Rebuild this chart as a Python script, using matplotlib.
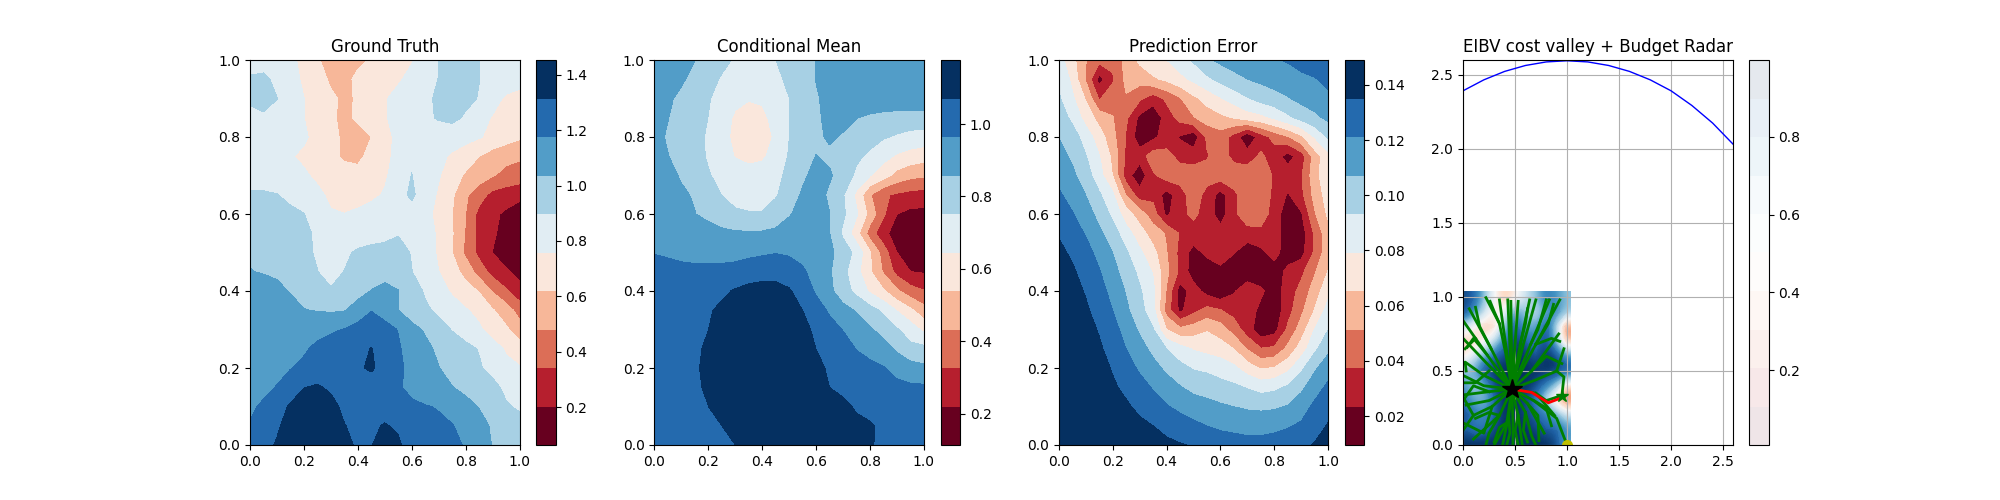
import matplotlib
matplotlib.use('Agg')
import matplotlib.pyplot as plt
import numpy as np

# coordenadas das grades
x_fine = [0, .05, .1, .15, .2, .25, .3, .35, .4, .45, .5, .55, .6, .65, .7, .75, .8, .85, .9, .95, 1]
y_fine = [1, .95, .9, .85, .8, .75, .7, .65, .6, .55, .5, .45, .4, .35, .3, .25, .2, .15, .1, .05, 0]
x_coarse = [0, .1, .2, .3, .4, .5, .6, .7, .8, .9, 1]
y_coarse = [1, .9, .8, .7, .6, .5, .4, .3, .2, .1, 0]

truth = [
    [.85, .83, .81, .79, .72, .63, .58, .57, .59, .63, .68, .71, .75, .82, .90, .94, .94, .90, .86, .83, .82],
    [.91, .93, .86, .80, .74, .67, .60, .58, .65, .70, .72, .745, .79, .85, .90, .95, .95, .90, .85, .82, .80],
    [.93, .96, .90, .82, .76, .70, .64, .60, .63, .69, .75, .79, .83, .87, .92, .95, .93, .89, .80, .74, .72],
    [.84, .87, .84, .81, .76, .70, .64, .59, .64, .70, .75, .79, .83, .87, .91, .93, .88, .80, .75, .71, .70],
    [.85, .84, .83, .81, .78, .71, .65, .60, .57, .62, .73, .78, .84, .83, .82, .82, .80, .77, .72, .68, .64],
    [.85, .84, .81, .77, .73, .69, .65, .60, .59, .66, .72, .80, .88, .81, .79, .74, .69, .62, .56, .52, .50],
    [.85, .85, .84, .82, .78, .73, .69, .67, .66, .69, .74, .82, .90, .82, .77, .68, .60, .55, .49, .44, .42],
    [.91, .91, .90, .87, .84, .79, .73, .71, .71, .73, .77, .85, .92, .83, .74, .64, .50, .40, .30, .27, .24],
    [.97, .95, .93, .92, .90, .83, .77, .76, .78, .81, .83, .88, .85, .80, .72, .62, .48, .30, .23, .18, .13],
    [1.00, .98, .96, .94, .92, .88, .82, .81, .81, .82, .84, .89, .86, .81, .74, .63, .47, .30, .22, .16, .12],
    [1.02, .99, .97, .95, .93, .88, .83, .87, .92, .95, .96, .94, .89, .82, .74, .62, .45, .30, .20, .14, .09],
    [1.04, 1.03, 1.02, .99, .96, .90, .85, .90, .95, .98, .98, .96, .90, .83, .76, .68, .57, .42, .29, .22, .16],
    [1.10, 1.08, 1.06, 1.03, 1.00, .97, .91, .95, 1.00, 1.04, 1.08, 1.04, .97, .88, .81, .74, .68, .61, .47, .36, .25],
    [1.10, 1.09, 1.08, 1.07, 1.04, 1.03, 1.02, 1.03, 1.08, 1.17, 1.12, 1.04, .96, .92, .87, .82, .77, .72, .63, .55, .42],
    [1.10, 1.10, 1.10, 1.11, 1.12, 1.14, 1.16, 1.18, 1.23, 1.25, 1.22, 1.17, 1.08, 1.02, .95, .89, .84, .78, .70, .64, .55],
    [1.10, 1.11, 1.12, 1.14, 1.16, 1.20, 1.22, 1.24, 1.26, 1.32, 1.25, 1.19, 1.12, 1.07, 1.01, .97, .93, .89, .82, .74, .68],
    [1.10, 1.12, 1.14, 1.17, 1.20, 1.23, 1.25, 1.27, 1.30, 1.33, 1.27, 1.20, 1.14, 1.08, 1.04, .99, .94, .91, .86, .80, .77],
    [1.12, 1.15, 1.18, 1.24, 1.31, 1.33, 1.29, 1.25, 1.24, 1.25, 1.24, 1.19, 1.14, 1.12, 1.09, 1.04, 1.00, .97, .93, .87, .84],
    [1.16, 1.19, 1.26, 1.33, 1.39, 1.41, 1.36, 1.28, 1.26, 1.28, 1.28, 1.24, 1.20, 1.18, 1.17, 1.13, 1.08, 1.03, .98, .91, .88],
    [1.18, 1.22, 1.29, 1.38, 1.42, 1.43, 1.40, 1.32, 1.27, 1.30, 1.32, 1.30, 1.24, 1.21, 1.19, 1.18, 1.14, 1.08, 1.02, .97, .94],
    [1.22, 1.26, 1.33, 1.41, 1.44, 1.45, 1.42, 1.36, 1.29, 1.31, 1.36, 1.33, 1.26, 1.23, 1.21, 1.19, 1.17, 1.10, 1.03, 1.00, .98],
]

mean = [
    [.95, .92, .89, .86, .82, .78, .74, .72, .72, .75, .79, .83, .86, .89, .91, .93, .94, .95, .95, .95, .95],
    [.92, .89, .87, .83, .79, .74, .71, .69, .69, .73, .77, .81, .86, .89, .91, .92, .93, .94, .95, .95, .94],
    [.90, .87, .84, .80, .76, .71, .67, .65, .66, .70, .75, .80, .85, .88, .90, .92, .93, .94, .94, .93, .93],
    [.89, .86, .83, .79, .75, .69, .63, .61, .62, .68, .75, .80, .85, .87, .88, .86, .84, .82, .81, .81, .81],
    [.88, .85, .82, .78, .74, .68, .62, .59, .60, .66, .75, .80, .84, .87, .85, .82, .79, .76, .74, .72, .71],
    [.88, .86, .83, .79, .74, .69, .64, .62, .63, .68, .76, .82, .86, .84, .81, .77, .73, .68, .63, .60, .58],
    [.90, .88, .85, .81, .76, .72, .70, .68, .69, .72, .78, .84, .89, .87, .81, .73, .65, .58, .50, .46, .445],
    [.91, .89, .87, .85, .80, .75, .71, .70, .70, .74, .81, .87, .90, .84, .76, .62, .44, .34, .31, .29, .28],
    [.93, .91, .89, .86, .83, .80, .77, .76, .76, .80, .85, .89, .90, .86, .77, .66, .50, .34, .22, .19, .19],
    [.94, .93, .92, .91, .90, .88, .87, .87, .87, .88, .90, .92, .92, .86, .73, .58, .38, .25, .17, .14, .14],
    [.96, .95, .94, .93, .93, .93, .93, .94, .95, .96, .95, .93, .91, .88, .81, .72, .55, .38, .22, .16, .15],
    [1.00, 1.00, .99, .99, .99, .99, 1.00, 1.02, 1.03, 1.03, 1.02, .98, .92, .87, .78, .68, .55, .42, .29, .22, .21],
    [1.02, 1.02, 1.03, 1.03, 1.03, 1.05, 1.08, 1.10, 1.11, 1.11, 1.08, 1.03, .95, .88, .80, .72, .63, .55, .45, .37, .33],
    [1.03, 1.03, 1.03, 1.04, 1.06, 1.09, 1.11, 1.12, 1.13, 1.12, 1.10, 1.07, 1.01, .95, .89, .85, .79, .73, .64, .56, .47],
    [1.03, 1.03, 1.04, 1.05, 1.07, 1.10, 1.12, 1.13, 1.14, 1.13, 1.12, 1.10, 1.05, 1.00, .96, .91, .87, .82, .76, .70, .62],
    [1.03, 1.03, 1.04, 1.06, 1.08, 1.11, 1.13, 1.14, 1.14, 1.14, 1.12, 1.10, 1.07, 1.04, 1.01, .96, .93, .90, .84, .78, .78],
    [1.03, 1.04, 1.05, 1.06, 1.09, 1.12, 1.14, 1.15, 1.15, 1.14, 1.13, 1.11, 1.09, 1.06, 1.04, 1.01, .99, .97, .93, .90, .88],
    [1.04, 1.04, 1.05, 1.06, 1.08, 1.12, 1.14, 1.15, 1.16, 1.15, 1.14, 1.12, 1.10, 1.07, 1.05, 1.04, 1.02, 1.00, .99, .98, .98],
    [1.04, 1.05, 1.06, 1.06, 1.07, 1.10, 1.13, 1.15, 1.16, 1.15, 1.15, 1.14, 1.12, 1.10, 1.09, 1.06, 1.04, 1.02, 1.01, 1.00, 1.00],
    [1.04, 1.05, 1.05, 1.05, 1.06, 1.07, 1.10, 1.12, 1.14, 1.14, 1.14, 1.13, 1.12, 1.11, 1.10, 1.09, 1.08, 1.05, 1.04, 1.03, 1.02],
    [1.04, 1.05, 1.05, 1.05, 1.05, 1.06, 1.07, 1.10, 1.12, 1.13, 1.13, 1.12, 1.11, 1.10, 1.09, 1.08, 1.075, 1.06, 1.05, 1.04, 1.03],
]

error = [
    [.085, .07, .052, .042, .042, .055, .068, .075, .079, .087, .095, .105, .110, .113, .116, .118, .120, .122, .126, .130, .133],
    [.092, .076, .05, .018, .035, .055, .057, .063, .068, .075, .082, .09, .097, .103, .107, .11, .113, .116, .118, .12, .125],
    [.095, .082, .064, .036, .046, .05, .04, .03, .04, .05, .062, .07, .078, .085, .092, .098, .102, .106, .111, .114, .118],
    [.101, .09, .074, .06, .052, .04, .02, .012, .03, .042, .05, .058, .062, .066, .072, .075, .081, .09, .098, .104, .11],
    [.107, .1, .087, .072, .056, .036, .015, .02, .03, .022, .015, .04, .045, .032, .012, .03, .042, .05, .062, .08, .095],
    [.112, .105, .094, .08, .062, .035, .03, .045, .042, .033, .03, .036, .045, .033, .03, .04, .03, .018, .03, .058, .075],
    [.117, .11, .1, .085, .065, .03, .014, .035, .044, .045, .046, .044, .045, .046, .046, .044, .036, .03, .036, .06, .076],
    [.123, .116, .107, .095, .082, .05, .03, .033, .018, .03, .046, .032, .018, .034, .046, .046, .034, .022, .034, .056, .072],
    [.128, .122, .113, .103, .09, .072, .058, .044, .02, .034, .04, .032, .016, .034, .046, .046, .03, .016, .022, .05, .068],
    [.134, .128, .12, .11, .1, .085, .072, .058, .05, .036, .032, .03, .03, .03, .032, .033, .03, .016, .016, .04, .06],
    [.138, .133, .126, .117, .107, .095, .082, .07, .052, .033, .018, .027, .03, .024, .014, .02, .03, .014, .018, .04, .06],
    [.141, .137, .13, .122, .112, .101, .09, .078, .055, .034, .016, .014, .02, .016, .014, .014, .014, .028, .034, .05, .066],
    [.143, .14, .134, .126, .117, .106, .095, .083, .05, .016, .03, .018, .012, .022, .032, .026, .016, .03, .042, .058, .075],
    [.145, .142, .137, .13, .121, .11, .098, .085, .045, .02, .033, .042, .038, .032, .03, .02, .014, .032, .048, .066, .085],
    [.147, .145, .14, .134, .126, .116, .105, .094, .065, .055, .058, .064, .058, .045, .03, .014, .018, .04, .058, .08, .093],
    [.148, .146, .143, .137, .13, .121, .113, .103, .093, .085, .078, .075, .072, .065, .05, .038, .04, .055, .072, .09, .104],
    [.149, .147, .144, .14, .134, .127, .119, .112, .104, .097, .092, .09, .087, .082, .072, .064, .066, .075, .09, .105, .115],
    [.149, .148, .146, .142, .137, .132, .126, .12, .114, .108, .103, .102, .098, .096, .092, .088, .09, .095, .104, .115, .124],
    [.149, .148, .147, .144, .141, .137, .132, .127, .122, .118, .114, .111, .109, .107, .105, .104, .105, .108, .115, .124, .131],
    [.149, .149, .148, .146, .144, .141, .138, .135, .131, .127, .124, .121, .119, .118, .117, .117, .118, .12, .123, .13, .136],
    [.149, .149, .148, .147, .146, .144, .142, .14, .138, .136, .134, .129, .127, .126, .125, .125, .126, .128, .132, .136, .14],
]

cost = [
    [.95, .9, .7, .5, .35, .45, .6, .7, .85, .8, .7],
    [.95, .8, .6, .45, .55, .8, .7, .6, .75, .85, .7],
    [.6, .45, .35, .4, .7, .95, .75, .75, .95, .65, .22],
    [.35, .4, .5, .65, .85, 1, .9, .85, .95, .75, .35],
    [.45, .6, .75, .9, .95, 1, 1, .9, 1, .95, .8],
    [.7, .75, .95, 1, 1, 1, 1, 1, 1, 1, .95],
    [.8, .65, .75, .95, 1, 1, 1, .95, .85, .7, .4],
    [.85, .75, .7, .9, 1, 1, .95, .85, .6, .4, .2],
    [.95, .85, .8, .9, 1, 1, .95, .9, .85, .75, .6],
    [.9, .85, .85, .95, 1, 1, 1, .95, .9, .9, .8],
    [1, 1, 1, 1, 1, 1, 1, 1, 1, .95, .75],
]

truth_range = (0.064, 1.453)
mean_range = (0.113, 1.177)
error_range = (0.0095, 0.149)
cost_range = (0.0076, 0.998)

truth_ticks = [.2, .4, .6, .8, 1.0, 1.2, 1.4]
mean_ticks = [.2, .4, .6, .8, 1.0]
error_ticks = [.02, .04, .06, .08, .10, .12, .14]
cost_ticks = [.2, .4, .6, .8]

radar_x = [0, .2, .4, .6, .8, 1, 1.2, 1.4, 1.6, 1.8, 2, 2.2, 2.4, 2.6]
radar_y = [2.392, 2.466, 2.523, 2.563, 2.587, 2.595, 2.587, 2.563, 2.523, 2.466, 2.392, 2.293, 2.174, 2.029]

start = (.47, .378)
goal = (.95, .33)
home = (1, 0)

# ramos da arvore a partir da posicao atual
branches = [
    ([.47, .41, .35, .22], [.378, .62, .82, .995]),
    ([.47, .41, .35], [.378, .68, .98]),
    ([.47, .45, .43], [.378, .68, .98]),
    ([.47, .465, .46], [.378, .68, .97]),
    ([.47, .50, .53], [.378, .68, .97]),
    ([.47, .55, .64], [.378, .68, .98]),
    ([.47, .58, .70], [.378, .68, .98]),
    ([.47, .65, .83], [.378, .68, .98]),
    ([.47, .70, .93], [.378, .68, .98]),
    ([.47, .27, .06], [.378, .65, .92]),
    ([.47, .23, .0], [.378, .61, .84]),
    ([.47, .23, .0], [.378, .55, .72]),
    ([.47, .2, .02, .03], [.378, .47, .56, .5]),
    ([.47, .7, .9, .97], [.378, .44, .5, .65]),
    ([.47, .66, .92], [.378, .5, .75]),
    ([.9, .97, .95], [.5, .46, .33]),
    ([.47, .25, .02], [.378, .36, .34]),
    ([.47, .2, 0], [.378, .4, .47]),
    ([.47, .25, .03], [.378, .3, .27]),
    ([.47, .28, .1, 0], [.378, .26, .2, .1]),
    ([.47, .35, .1], [.378, .2, .04]),
    ([.47, .42, .3], [.378, .15, 0]),
    ([.47, .44, .38], [.378, .2, 0]),
    ([.47, .48, .48], [.378, .15, 0]),
    ([.47, .53, .57], [.378, .2, 0]),
    ([.47, .6, .66, .7], [.378, .22, .06, 0]),
    ([.47, .62, .78], [.378, .28, .08]),
    ([.47, .68, .9, 1], [.378, .3, .18, 0]),
    ([.47, .7, .88], [.378, .35, .2]),
    ([.27, .16, .12], [.65, .8, .93]),
    ([.23, .1, .04], [.61, .72, .66]),
    ([.35, .3, .26], [.82, .9, .97]),
    ([.12, .02], [.72, .65]),
    ([.55, .6, .62], [.68, .82, .92]),
    ([.65, .72, .8], [.68, .78, .98]),
    ([.70, .82, .87], [.68, .82, .95]),
    ([.70, .85, .93], [.68, .72, .7]),
    ([.66, .8, .95], [.5, .6, .55]),
    ([.25, .12, .02], [.5, .42, .42]),
    ([.25, .1, 0], [.36, .4, .3]),
    ([.1, .02], [.2, .3]),
    ([.28, .2, 0], [.26, .08, .15]),
    ([.35, .25, .22], [.2, .08, 0]),
    ([.42, .35, .3], [.15, .12, .02]),
    ([.44, .45, .42], [.2, .08, 0]),
    ([.53, .5, .53], [.2, .1, 0]),
    ([.6, .58, .62], [.22, .1, .02]),
    ([.62, .72, .73], [.28, .2, .03]),
    ([.68, .8, .85], [.3, .25, .13]),
    ([.7, .8, .93], [.35, .3, .33]),
    ([.35, .25, .12], [.2, .22, .18]),
]

path_x = [.47, .66, .82, .97]
path_y = [.378, .355, .285, .325]


def fieldContour(ax, x, y, field, lim, alpha=None):
    levels = np.linspace(lim[0], lim[1], 11)
    # cores dos extremos iguais aos do mapa: vmin/vmax no meio da primeira e da ultima faixa
    step = levels[1] - levels[0]
    return ax.contourf(x, y, field, levels=levels, cmap='RdBu', alpha=alpha,
                       vmin=levels[0] + step / 2, vmax=levels[-1] - step / 2)


def fieldPlot(ax, fig, x, y, field, lim, ticks, title):
    cs = fieldContour(ax, x, y, field, lim)
    ax.set_title(title)
    ax.set_xlim(0, 1)
    ax.set_ylim(0, 1)
    fig.colorbar(cs, ax=ax, ticks=ticks)


fig, ax = plt.subplots(1, 4, figsize=(20, 5))

fieldPlot(ax[0], fig, x_fine, y_fine, truth, truth_range, truth_ticks, 'Ground Truth')
fieldPlot(ax[1], fig, x_fine, y_fine, mean, mean_range, mean_ticks, 'Conditional Mean')
fieldPlot(ax[2], fig, x_fine, y_fine, error, error_range, error_ticks, 'Prediction Error')

a = ax[3]
a.imshow(cost, cmap='RdBu', vmin=0, vmax=1, extent=(-.035, 1.035, -.035, 1.035),
         interpolation='bicubic', aspect='auto')
cs = fieldContour(a, x_coarse, y_coarse, cost, cost_range, alpha=0.1)
fig.colorbar(cs, ax=a, ticks=cost_ticks)
for bx, by in branches:
    a.plot(bx, by, color='g', linewidth=2)
a.plot(path_x, path_y, color='r', linewidth=2)
a.plot(radar_x, radar_y, color='b', linewidth=1)
a.plot(goal[0], goal[1], 'g*', markersize=9)
a.plot(home[0], home[1], 'yo', markersize=7)
a.plot(start[0], start[1], 'k*', markersize=15)
a.set_title('EIBV cost valley + Budget Radar')
a.grid(True)
a.set_xlim(0, 2.592)
a.set_ylim(0, 2.6)
a.set_xticks([0, .5, 1, 1.5, 2, 2.5])
a.set_yticks([0, .5, 1, 1.5, 2, 2.5])

fig.savefig('out.png', dpi=100)
